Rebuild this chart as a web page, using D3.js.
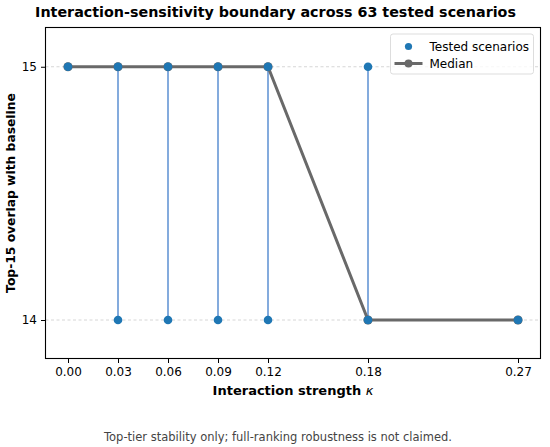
<!DOCTYPE html>
<head>
  <meta charset="utf-8">
  <script src="https://d3js.org/d3.v7.min.js"></script>
  <style>
    body { margin: 0; background: #fff; }
    svg { width: 550px; height: 447px; font-family: 'DejaVu Sans', sans-serif; }
  </style>
</head>

<body>
  <svg></svg>

  <script>
    const width = 550;
    const height = 447;

    // data
    const kappa = [0.00, 0.03, 0.06, 0.09, 0.12, 0.18, 0.27];
    const overlapMin = [15, 14, 14, 14, 14, 14, 14];
    const overlapMax = [15, 15, 15, 15, 15, 15, 14];
    const medianOverlap = [15, 15, 15, 15, 15, 14, 14];
    const yTicks = [14, 15];
    const xTickLabels = ['0.00', '0.03', '0.06', '0.09', '0.12', '0.18', '0.27'];

    const margin = {top: 27.5, right: 9.5, bottom: 88.5, left: 45.5};
    const plotW = width - margin.left - margin.right;
    const plotH = height - margin.top - margin.bottom;

    const x = d3.scaleLinear()
      .domain([-0.0135, 0.2835])
      .range([0, plotW]);
    const y = d3.scaleLinear()
      .domain([13.848, 15.155])
      .range([plotH, 0]);

    const svg = d3.select('svg');
    const g = svg.append('g')
      .attr('transform', `translate(${margin.left},${margin.top})`);

    // grid
    g.selectAll('.grid').data(yTicks).enter().append('line')
      .attr('x1', 0).attr('x2', plotW)
      .attr('y1', d => y(d)).attr('y2', d => y(d))
      .attr('stroke', '#cccccc')
      .attr('stroke-width', 0.8)
      .attr('stroke-dasharray', '3,2.5');

    // min-max stems
    const stems = kappa.map((k, i) => ({k, lo: overlapMin[i], hi: overlapMax[i]}))
      .filter(d => d.lo !== d.hi);
    g.selectAll('.stem').data(stems).enter().append('line')
      .attr('x1', d => x(d.k)).attr('x2', d => x(d.k))
      .attr('y1', d => y(d.lo)).attr('y2', d => y(d.hi))
      .attr('stroke', '#5b8fd2')
      .attr('stroke-width', 1.5);

    // median line
    const medData = kappa.map((k, i) => ({k, v: medianOverlap[i]}));
    g.append('path')
      .datum(medData)
      .attr('fill', 'none')
      .attr('stroke', '#696969')
      .attr('stroke-width', 3)
      .attr('d', d3.line().x(d => x(d.k)).y(d => y(d.v)));
    g.selectAll('.medpt').data(medData).enter().append('circle')
      .attr('cx', d => x(d.k)).attr('cy', d => y(d.v))
      .attr('r', 4.6)
      .attr('fill', '#696969');

    // tested scenarios
    const pts = [];
    kappa.forEach((k, i) => {
      pts.push({k, v: overlapMax[i]});
      if (overlapMin[i] !== overlapMax[i]) pts.push({k, v: overlapMin[i]});
    });
    g.selectAll('.pt').data(pts).enter().append('circle')
      .attr('cx', d => x(d.k)).attr('cy', d => y(d.v))
      .attr('r', 4.3)
      .attr('fill', '#1f77b4');

    // axes
    const xAxis = g.append('g')
      .attr('transform', `translate(0,${plotH})`)
      .call(d3.axisBottom(x).tickValues(kappa).tickFormat((d, i) => xTickLabels[i]).tickSize(4.5).tickPadding(4));
    const yAxis = g.append('g')
      .call(d3.axisLeft(y).tickValues(yTicks).tickFormat(d3.format('d')).tickSize(4.5).tickPadding(4));
    [xAxis, yAxis].forEach(a => {
      a.select('.domain').remove();
      a.selectAll('text').attr('font-size', 12).attr('font-family', 'DejaVu Sans').attr('fill', '#000');
      a.selectAll('line').attr('stroke', '#000').attr('stroke-width', 1);
    });

    // frame
    g.append('rect')
      .attr('width', plotW).attr('height', plotH)
      .attr('fill', 'none')
      .attr('stroke', '#000')
      .attr('stroke-width', 1.1);

    // legend
    const lg = g.append('g').attr('transform', `translate(${plotW - 150},6.5)`);
    lg.append('rect')
      .attr('width', 143).attr('height', 40).attr('rx', 2.5)
      .attr('fill', 'rgba(255,255,255,0.8)')
      .attr('stroke', '#d9d9d9')
      .attr('stroke-width', 0.9);
    lg.append('circle').attr('cx', 18).attr('cy', 12.5).attr('r', 3.6).attr('fill', '#1f77b4');
    lg.append('line').attr('x1', 4).attr('x2', 32).attr('y1', 29.5).attr('y2', 29.5)
      .attr('stroke', '#696969').attr('stroke-width', 3);
    lg.append('circle').attr('cx', 18).attr('cy', 29.5).attr('r', 4).attr('fill', '#696969');
    lg.append('text').attr('x', 39).attr('y', 16.8).attr('font-size', 12).text('Tested scenarios');
    lg.append('text').attr('x', 39).attr('y', 33.8).attr('font-size', 12).text('Median');

    // titles
    svg.append('text')
      .attr('x', 275.5).attr('y', 17)
      .attr('text-anchor', 'middle')
      .attr('font-size', 14.3).attr('font-weight', 'bold')
      .text('Interaction-sensitivity boundary across 63 tested scenarios');

    const xl = svg.append('text')
      .attr('x', margin.left + plotW / 2).attr('y', 395)
      .attr('text-anchor', 'middle')
      .attr('font-size', 13).attr('font-weight', 'bold');
    xl.append('tspan').text('Interaction strength ');
    xl.append('tspan').attr('font-style', 'italic').attr('font-weight', 'normal').text('κ');

    svg.append('text')
      .attr('transform', `translate(15,${margin.top + plotH / 2}) rotate(-90)`)
      .attr('text-anchor', 'middle')
      .attr('font-size', 12.3).attr('font-weight', 'bold')
      .text('Top-15 overlap with baseline');

    svg.append('text')
      .attr('x', 278).attr('y', 441)
      .attr('text-anchor', 'middle')
      .attr('font-size', 11.5).attr('fill', '#444')
      .text('Top-tier stability only; full-ranking robustness is not claimed.');
  </script>
</body>
